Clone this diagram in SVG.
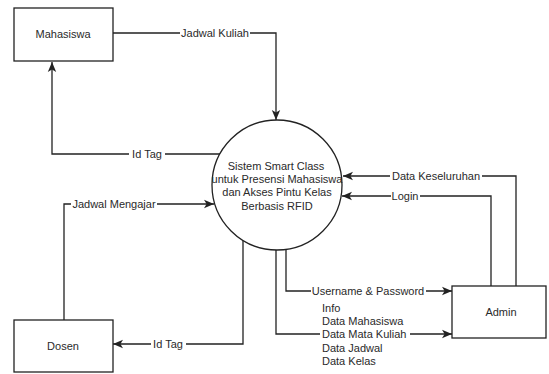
<svg xmlns="http://www.w3.org/2000/svg" width="549" height="374" viewBox="0 0 549 374">
  <style>
    .box { fill: #ffffff; stroke: #222222; stroke-width: 1.3; }
    .flow { fill: none; stroke: #222222; stroke-width: 1.3; }
    .lbl-bg { fill: #ffffff; }
    text { font-family: "Liberation Sans", Arial, sans-serif; font-size: 11px; fill: #2a2a2a; }
    .mid { text-anchor: middle; }
  </style>
  <defs>
    <marker id="arrow" markerUnits="userSpaceOnUse" markerWidth="10" markerHeight="10" viewBox="0 0 10 10" refX="10" refY="5" orient="auto">
      <path d="M0,0.8 L10,5 L0,9.2 L2.6,5 Z" fill="#222222"/>
    </marker>
  </defs>
  <rect width="549" height="374" fill="#ffffff"/>

  <!-- data flows -->
  <g id="connectors">
    <polyline class="flow" points="113,33 276,33 276,120" marker-end="url(#arrow)"/>
    <rect class="lbl-bg" x="180" y="26" width="70" height="14"/>
    <text class="mid" x="215" y="37">Jadwal Kuliah</text>

    <polyline class="flow" points="220,154 52,154 52,62" marker-end="url(#arrow)"/>
    <rect class="lbl-bg" x="129" y="147" width="36" height="14"/>
    <text class="mid" x="147" y="158">Id Tag</text>

    <polyline class="flow" points="516,286 516,176 343,176" marker-end="url(#arrow)"/>
    <rect class="lbl-bg" x="390" y="169" width="92" height="14"/>
    <text class="mid" x="436" y="180">Data Keseluruhan</text>

    <polyline class="flow" points="491,286 491,196 342,196" marker-end="url(#arrow)"/>
    <rect class="lbl-bg" x="391" y="189" width="29" height="14"/>
    <text class="mid" x="405" y="200">Login</text>

    <polyline class="flow" points="286,249 286,291 452,291" marker-end="url(#arrow)"/>
    <rect class="lbl-bg" x="311" y="284" width="115" height="14"/>
    <text class="mid" x="368" y="295">Username &amp; Password</text>

    <polyline class="flow" points="276,250 276,334 452,334" marker-end="url(#arrow)"/>
    <rect class="lbl-bg" x="320" y="300" width="90" height="66"/>
    <text x="322" y="312">Info</text>
    <text x="322" y="325">Data Mahasiswa</text>
    <text x="322" y="338">Data Mata Kuliah</text>
    <text x="322" y="352">Data Jadwal</text>
    <text x="322" y="365">Data Kelas</text>

    <polyline class="flow" points="243,240 243,344 113,344" marker-end="url(#arrow)"/>
    <rect class="lbl-bg" x="151" y="337" width="35" height="14"/>
    <text class="mid" x="168" y="348">Id Tag</text>

    <polyline class="flow" points="64,320 64,204 214,204" marker-end="url(#arrow)"/>
    <rect class="lbl-bg" x="71" y="197" width="86" height="14"/>
    <text class="mid" x="114" y="208">Jadwal Mengajar</text>
  </g>

  <!-- external entities and process -->
  <g id="mahasiswa">
    <rect class="box" x="14" y="8" width="99" height="53"/>
    <text class="mid" x="63" y="38">Mahasiswa</text>
  </g>

  <g id="sistem">
    <circle class="box" cx="277" cy="185" r="65"/>
    <text class="mid" x="276" y="170">Sistem Smart Class</text>
    <text class="mid" x="277" y="183">untuk Presensi Mahasiswa</text>
    <text class="mid" x="277" y="196">dan Akses Pintu Kelas</text>
    <text class="mid" x="277" y="210">Berbasis RFID</text>
  </g>

  <g id="dosen">
    <rect class="box" x="14" y="320" width="99" height="52"/>
    <text class="mid" x="63" y="350">Dosen</text>
  </g>

  <g id="admin">
    <rect class="box" x="452" y="286" width="94" height="52"/>
    <text class="mid" x="501" y="316">Admin</text>
  </g>
</svg>
